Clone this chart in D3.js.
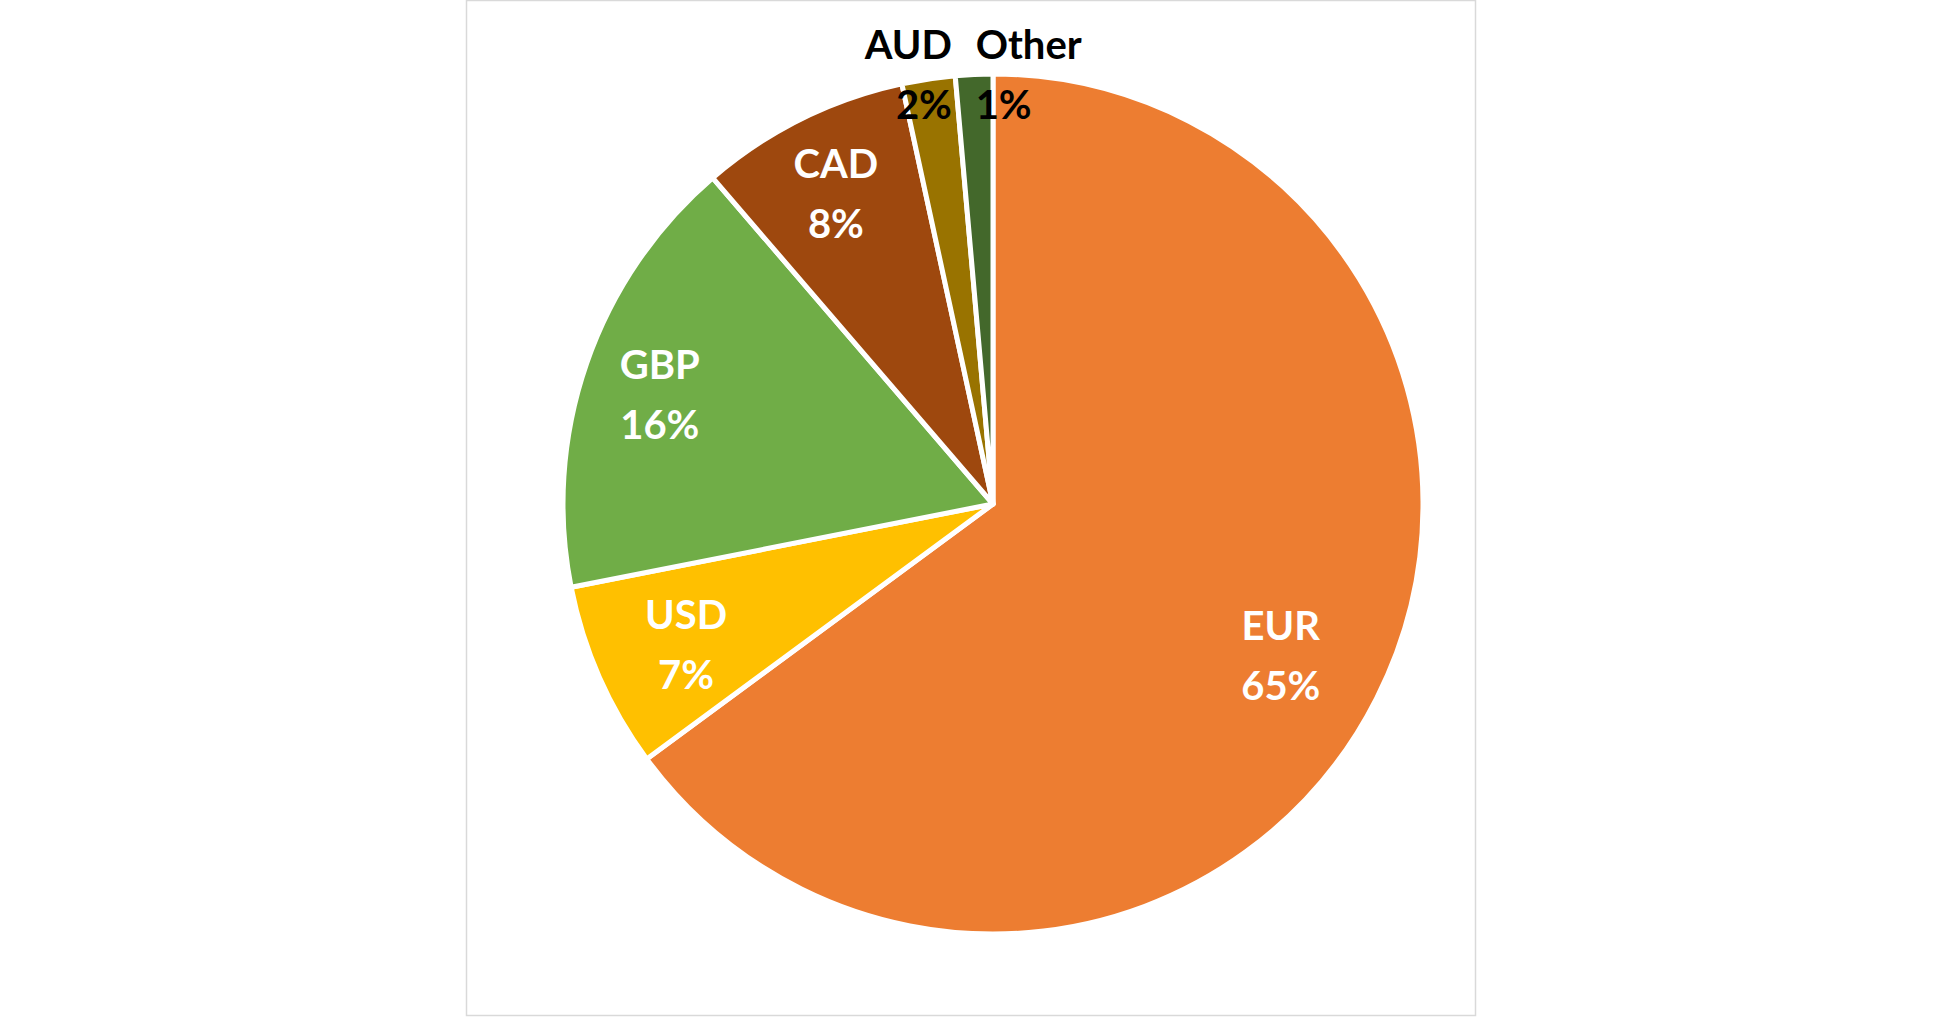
<!DOCTYPE html>
<html><head><meta charset="utf-8">
<script src="https://cdn.jsdelivr.net/npm/d3@7"></script>
<style>body{margin:0;background:#fff}</style>
</head><body>
<svg id="c" width="1942" height="1017"></svg>
<script>
var categories = ["EUR", "USD", "GBP", "CAD", "AUD", "Other"];
var shares = [64.9, 7.0, 16.8, 7.9, 2.0, 1.4];
var pctLabels = ["65%", "7%", "16%", "8%", "2%", "1%"];
var colors = ["#ed7d31", "#ffc000", "#70ad47", "#9e480e", "#997300", "#43682b"];

var svg = d3.select("#c");
svg.append("rect").attr("x", 466.5).attr("y", 0.5).attr("width", 1009).attr("height", 1015)
    .attr("fill", "#fff").attr("stroke", "#d9d9d9").attr("stroke-width", 1.5);

var cx = 993, cy = 504, r = 430;
var g = svg.append("g").attr("transform", "translate(" + cx + "," + cy + ")");

var pie = d3.pie().sort(null).value(function(d) { return d; });
var arcs = pie(shares);
var arc = d3.arc().innerRadius(0).outerRadius(r);

g.selectAll("path").data(arcs).enter().append("path")
    .attr("d", arc)
    .attr("fill", function(d, i) { return colors[i]; })
    .attr("stroke", "#fff").attr("stroke-width", 5).attr("stroke-linejoin", "round");

// inside labels at centroid, small top slices labelled outside
arcs.forEach(function(d, i) {
  var outside = shares[i] < 3;
  var a = (d.startAngle + d.endAngle) / 2;
  var k = i == 0 ? 0.75 : (i == 1 ? 0.78 : 0.82);
  var x, y, anchor = "middle";
  if (outside) {
    x = (r + 10) * Math.sin(a) + (i == 4 ? 25 : 2);
    y = -r + 15;
    anchor = i == 4 ? "end" : "start";
  } else {
    x = r * k * Math.sin(a);
    y = -r * k * Math.cos(a) + 20;
  }
  var t = g.append("text").attr("text-anchor", anchor)
      .attr("font-family", "Lato, 'Open Sans', sans-serif").attr("font-weight", "bold")
      .attr("font-size", 40).attr("fill", outside ? "#000" : "#fff");
  t.append("tspan").attr("x", x).attr("y", y - 30).text(categories[i]);
  t.append("tspan").attr("x", x).attr("y", y + 30).text(pctLabels[i]);
});
</script>
</body></html>
